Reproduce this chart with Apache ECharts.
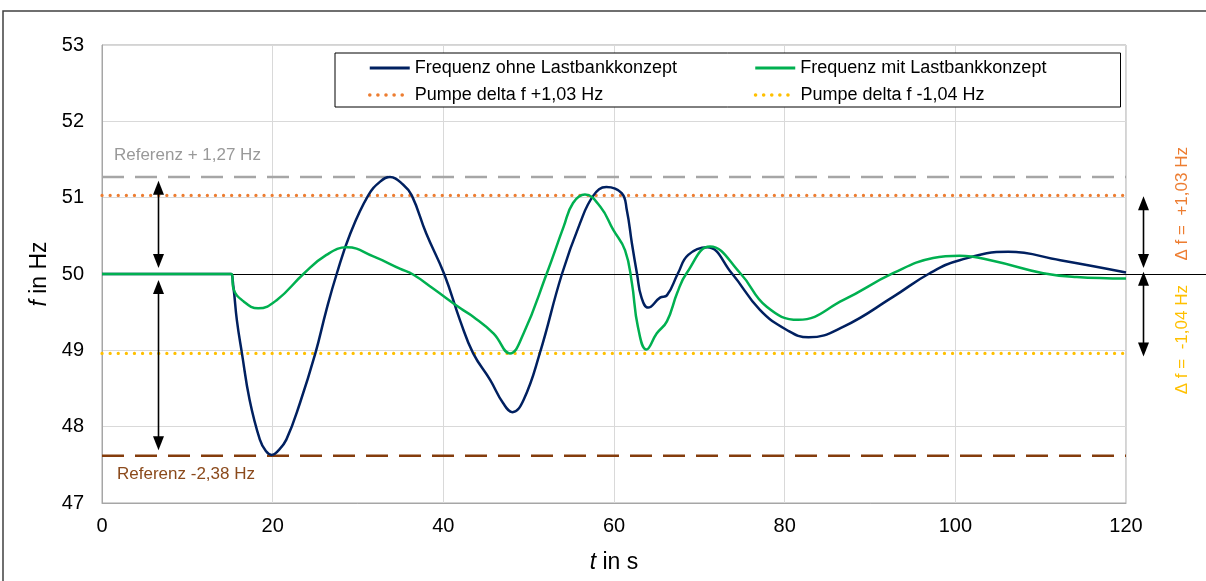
<!DOCTYPE html>
<html>
<head>
<meta charset="utf-8">
<script src="https://cdn.jsdelivr.net/npm/echarts@6/dist/echarts.min.js"></script>
<style>html,body{margin:0;padding:0;background:#fff;}#c{width:1206px;height:581px;}</style>
</head>
<body>
<div id="c"></div>
<script>
// ---- data ----
const xTicks = [0, 20, 40, 60, 80, 100, 120];
const yTicks = [47, 48, 49, 50, 51, 52, 53];
const seriesNames = ['Frequenz ohne Lastbankkonzept', 'Frequenz mit Lastbankkonzept', 'Pumpe delta f +1,03 Hz', 'Pumpe delta f -1,04 Hz'];
const ohne = [
  [0,50],[14.8,50],[15.1,50],[15.4,49.83],[15.8,49.40],[16.4,48.96],[17.3,48.35],[18.5,47.83],[19.2,47.68],[19.9,47.63],
  [20.6,47.68],[21.6,47.83],[23.2,48.31],[25.0,48.96],[26.3,49.53],[27.5,50.0],[29.1,50.53],[31.2,51.03],[32.6,51.21],
  [33.75,51.27],[35.3,51.17],[36.3,51.03],[38.0,50.53],[40.1,50.0],[42.0,49.38],[43.5,48.96],[45.5,48.61],
  [47.0,48.31],[48.1,48.19],[49.4,48.35],[51.3,48.96],[53.9,50.0],[56.0,50.66],[57.6,51.03],[59.1,51.14],
  [60.9,51.06],[61.5,50.84],[62.1,50.40],[62.7,50.0],[63.2,49.70],[64.0,49.56],[65.4,49.69],[66.2,49.72],
  [67.5,50.01],[68.7,50.25],[70.9,50.35],[73.8,50.01],[77.1,49.53],[80.2,49.27],[82.8,49.17],[86.9,49.31],
  [92.7,49.70],[97.0,50.01],[100.5,50.18],[106.2,50.29],[112.3,50.18],[120,50.02]
];
const mit = [
  [0,50],[14.9,50],[15.2,50],[15.4,49.81],[16.6,49.64],[18.3,49.55],[20.5,49.66],[23.6,50.0],[26.3,50.25],
  [28.7,50.35],[31.8,50.23],[34.9,50.07],[36.5,49.99],[38.8,49.81],[42.0,49.55],[43.5,49.44],[45.9,49.22],
  [47.8,48.96],[49.4,49.22],[52.1,50.0],[54.1,50.62],[55.2,50.93],[56.6,51.04],[58.4,50.88],[59.9,50.58],
  [61.3,50.31],[62.1,49.88],[62.8,49.31],[63.8,49.01],[65.0,49.22],[66.2,49.38],[67.4,49.75],[68.5,50.01],
  [71.25,50.36],[74.8,50.01],[77.9,49.57],[81.6,49.40],[86.9,49.66],[92.7,50.01],[97.4,50.21],[100.5,50.24],
  [104.5,50.17],[110.3,50.01],[114.2,49.96],[120,49.94]
];
const nominal = 50;
const pumpUp = 51.03;
const pumpDown = 48.96;
const refUpper = 51.27;
const refLower = 47.62;
const refLabels = ['Referenz + 1,27 Hz', 'Referenz -2,38 Hz'];
const deltaLabels = ['\u0394 f =  +1,03 Hz', '\u0394 f =  -1,04 Hz'];
const leftArrows = [[6.56, 51.22, 50.08], [6.56, 49.92, 47.69]];
const rightArrows = [[122.0, 51.02, 50.08], [122.0, 50.03, 48.92]];

const FONT = 'Liberation Sans, Arial, sans-serif';
const chart = echarts.init(document.getElementById('c'));
const hline = v => [[xTicks[0], v], [xTicks[xTicks.length - 1], v]];
const dotted = [0.1, 8];

chart.setOption({
  animation: false,
  textStyle: { fontFamily: FONT },
  grid: { left: 102, right: 80, top: 45, bottom: 78, show: true, borderColor: '#a6a6a6', borderWidth: 1 },
  legend: {
    left: 335, top: 53, width: 800,
    padding: [4, 20, 1, 33],
    itemGap: 5, itemWidth: 40, itemHeight: 14,
    backgroundColor: '#fff', borderColor: '#000', borderWidth: 1,
    itemStyle: { opacity: 0 },
    textStyle: { fontSize: 18, color: '#000', lineHeight: 22, fontFamily: FONT },
    data: [
      { name: seriesNames[0], textStyle: { width: 334 }, lineStyle: { width: 3, color: '#002060' } },
      { name: seriesNames[1], textStyle: { width: 300 }, lineStyle: { width: 3, color: '#00b050' } },
      { name: seriesNames[2], textStyle: { width: 334 }, lineStyle: { width: 3.5, color: '#ed7d31', type: dotted, cap: 'round' } },
      { name: seriesNames[3], textStyle: { width: 300 }, lineStyle: { width: 3.5, color: '#ffc000', type: dotted, cap: 'round' } }
    ]
  },
  xAxis: {
    type: 'value', min: 0, max: 120, interval: 20,
    name: '{i|t} in s', nameLocation: 'middle', nameGap: 48,
    nameTextStyle: { fontSize: 23, color: '#000', rich: { i: { fontStyle: 'italic', fontSize: 23 } } },
    axisLine: { show: true, lineStyle: { color: '#a6a6a6' } },
    axisTick: { show: false },
    axisLabel: { fontSize: 20, color: '#000', margin: 13 },
    splitLine: { show: true, lineStyle: { color: '#d9d9d9', width: 1 } }
  },
  yAxis: {
    type: 'value', min: 47, max: 53, interval: 1,
    name: '{i|f} in Hz', nameLocation: 'middle', nameGap: 50, nameRotate: 90,
    nameTextStyle: { fontSize: 23, color: '#000', rich: { i: { fontStyle: 'italic', fontSize: 23 } } },
    axisLine: { show: true, lineStyle: { color: '#a6a6a6' } },
    axisTick: { show: false },
    axisLabel: { fontSize: 20, color: '#000', margin: 18 },
    splitLine: { show: true, lineStyle: { color: '#d9d9d9', width: 1 } }
  },
  series: [
    { name: 'refU', type: 'line', data: hline(refUpper), symbol: 'none', silent: true,
      lineStyle: { color: '#a6a6a6', width: 2.5, type: [22, 11] }, z: 1 },
    { name: 'refL', type: 'line', data: hline(refLower), symbol: 'none', silent: true,
      lineStyle: { color: '#843c0c', width: 2.5, type: [22, 11] }, z: 1 },
    { name: seriesNames[2], type: 'line', data: hline(pumpUp), symbol: 'none',
      lineStyle: { color: '#ed7d31', width: 3.2, type: dotted, cap: 'round' }, itemStyle: { color: '#ed7d31' }, z: 1 },
    { name: seriesNames[3], type: 'line', data: hline(pumpDown), symbol: 'none',
      lineStyle: { color: '#ffc000', width: 3.2, type: dotted, cap: 'round' }, itemStyle: { color: '#ffc000' }, z: 1 },
    { name: seriesNames[0], type: 'line', data: ohne, symbol: 'none', smooth: 0.45,
      lineStyle: { color: '#002060', width: 2.5 }, itemStyle: { color: '#002060' }, z: 3 },
    { name: seriesNames[1], type: 'line', data: mit, symbol: 'none', smooth: 0.45,
      lineStyle: { color: '#00b050', width: 2.5 }, itemStyle: { color: '#00b050' }, z: 4 }
  ]
});

// ---- annotations placed through the axes' scales ----
const px = (t, f) => chart.convertToPixel({ xAxisIndex: 0, yAxisIndex: 0 }, [t, f]);
const g = [];
g.push({ type: 'rect', shape: { x: 3, y: 11, width: 1230, height: 600 }, style: { fill: 'none', stroke: '#404040', lineWidth: 1.5 }, z: 0, silent: true });
const n0 = px(0, nominal);
g.push({ type: 'line', shape: { x1: n0[0], y1: Math.round(n0[1]) + 0.5, x2: chart.getWidth(), y2: Math.round(n0[1]) + 0.5 }, style: { stroke: '#000', lineWidth: 1.2 }, z: 2, silent: true });
function arrow(a) {
  const p1 = px(a[0], a[1]), p2 = px(a[0], a[2]);
  const x = Math.round(p1[0]) + 0.5;
  const hl = 14, hw = 5.5;
  g.push({ type: 'line', shape: { x1: x, y1: p1[1] + 4, x2: x, y2: p2[1] - 4 }, style: { stroke: '#000', lineWidth: 1.6 }, z: 10, silent: true });
  g.push({ type: 'polygon', shape: { points: [[x, p1[1]], [x - hw, p1[1] + hl], [x + hw, p1[1] + hl]] }, style: { fill: '#000' }, z: 10, silent: true });
  g.push({ type: 'polygon', shape: { points: [[x, p2[1]], [x - hw, p2[1] - hl], [x + hw, p2[1] - hl]] }, style: { fill: '#000' }, z: 10, silent: true });
}
leftArrows.forEach(arrow);
rightArrows.forEach(arrow);
const l1 = px(1.4, 51.56), l2 = px(1.76, 47.38);
g.push({ type: 'text', x: l1[0], y: l1[1], style: { text: refLabels[0], fill: '#999999', font: '17px ' + FONT, align: 'left', verticalAlign: 'middle' }, z: 10, silent: true });
g.push({ type: 'text', x: l2[0], y: l2[1], style: { text: refLabels[1], fill: '#8b4a1c', font: '17px ' + FONT, align: 'left', verticalAlign: 'middle' }, z: 10, silent: true });
const d1 = px(126.6, 50.92), d2 = px(126.6, 49.14);
g.push({ type: 'text', x: d1[0], y: d1[1], rotation: Math.PI / 2, style: { text: deltaLabels[0], fill: '#ed7d31', font: '17px ' + FONT, align: 'center', verticalAlign: 'middle' }, z: 10, silent: true });
g.push({ type: 'text', x: d2[0], y: d2[1], rotation: Math.PI / 2, style: { text: deltaLabels[1], fill: '#ffc000', font: '17px ' + FONT, align: 'center', verticalAlign: 'middle' }, z: 10, silent: true });
chart.setOption({ graphic: g });
</script>
</body>
</html>
